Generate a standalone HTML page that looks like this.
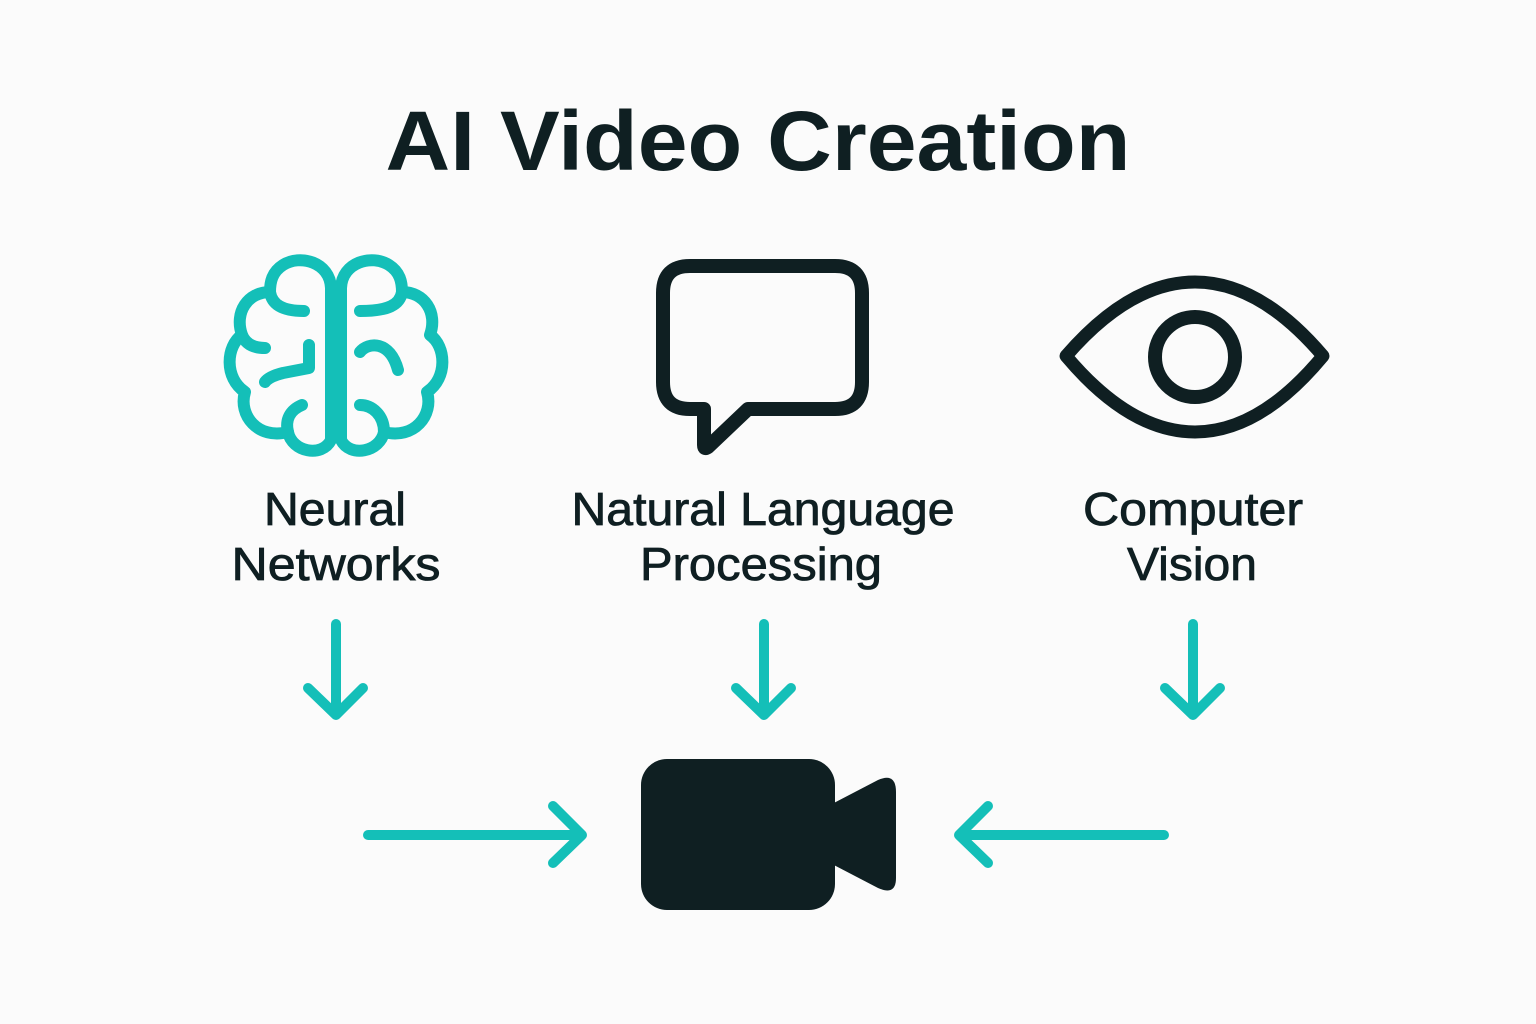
<!DOCTYPE html>
<html><head><meta charset="utf-8"><style>
html,body{margin:0;padding:0;background:#fbfbfb;}
svg{display:block;}
text{font-family:"Liberation Sans",sans-serif;fill:#0f1f22;}
</style></head><body>
<svg width="1536" height="1024" viewBox="0 0 1536 1024">
<rect width="1536" height="1024" fill="#fbfbfb"/>
<text x="758" y="170" font-size="84" font-weight="bold" text-anchor="middle" textLength="745" lengthAdjust="spacingAndGlyphs">AI Video Creation</text>

<!-- brain -->
<g fill="none" stroke="#14bfb8" stroke-width="12" stroke-linecap="round" stroke-linejoin="round">
<path d="M331,288 C330,262 300,254 283,265 C272,272 270,282 270,292 C248,292 234,312 242,335 C226,346 224,378 245,392 C238,415 258,440 288,432 C292,452 322,458 331,440 Z"/>
<path d="M341,288 C342,262 372,254 389,265 C400,272 402,282 402,292 C424,292 438,312 430,335 C446,346 448,378 427,392 C434,415 414,440 384,432 C380,452 350,458 341,440 Z"/>
<path d="M270,292 C272,305 283,311 304,311"/>
<path d="M242,335 C246,345 255,348 265,348"/>
<path d="M309,345 L309,368 L283,373 C275,375 268,378 265,382"/>
<path d="M302,405 C290,410 285,420 288,432"/>
<path d="M402,292 C400,305 388,311 360,311"/>
<path d="M360,352 C368,342 390,340 398,370"/>
<path d="M360,405 C372,405 384,415 384,432"/>
</g>

<!-- speech bubble -->
<path d="M690,266 L835,266 Q862,266 862,293 L862,382 Q862,409 835,409 L748,409 L708,447 Q704,450 704,445 L704,409 L690,409 Q663,409 663,382 L663,293 Q663,266 690,266 Z" fill="none" stroke="#0f1f22" stroke-width="14" stroke-linejoin="round"/>

<!-- eye -->
<path d="M1066,356 Q1130,282 1195,282 Q1260,282 1323,356 Q1260,432 1195,432 Q1130,432 1066,356 Z" fill="none" stroke="#0f1f22" stroke-width="13" stroke-linejoin="round"/>
<circle cx="1195" cy="357" r="40" fill="none" stroke="#0f1f22" stroke-width="14"/>

<!-- labels -->
<g font-size="46" text-anchor="middle" stroke="#0f1f22" stroke-width="0.8" lengthAdjust="spacingAndGlyphs">
<text x="335" y="525" textLength="142" lengthAdjust="spacingAndGlyphs">Neural</text>
<text x="336" y="580" textLength="209" lengthAdjust="spacingAndGlyphs">Networks</text>
<text x="763" y="525" textLength="383" lengthAdjust="spacingAndGlyphs">Natural Language</text>
<text x="761" y="580" textLength="242" lengthAdjust="spacingAndGlyphs">Processing</text>
<text x="1193" y="525" textLength="220" lengthAdjust="spacingAndGlyphs">Computer</text>
<text x="1192" y="580" textLength="130" lengthAdjust="spacingAndGlyphs">Vision</text>
</g>

<!-- arrows -->
<g fill="none" stroke="#14bfb8" stroke-width="10" stroke-linecap="round" stroke-linejoin="round">
<path d="M336,624 L336,713 M308,688 L336,715 L363,688"/>
<path d="M764,624 L764,713 M736,688 L764,715 L791,688"/>
<path d="M1193,624 L1193,713 M1165,688 L1193,715 L1220,688"/>
<path d="M368,835 L580,835 M553,806 L582,835 L553,863"/>
<path d="M1164,835 L960,835 M988,806 L959,835 L988,863"/>
</g>

<!-- camera -->
<rect x="641" y="759" width="194" height="151" rx="26" fill="#0f1f22"/>
<path d="M830,805 L878,780 Q896,772 896,792 L896,878 Q896,896 878,888 L830,863 Z" fill="#0f1f22"/>
</svg>
</body></html>
